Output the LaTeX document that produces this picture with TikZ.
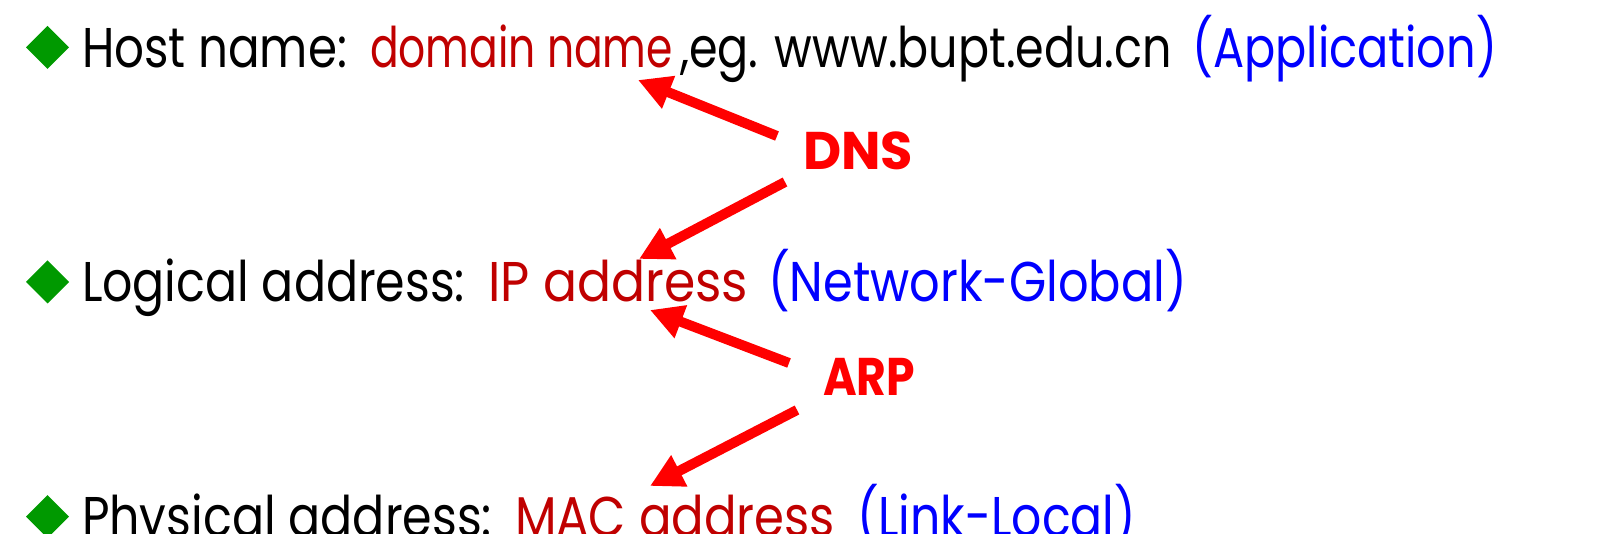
\documentclass[tikz,border=0pt]{standalone}
\usepackage{fontspec}
\setmainfont{Poppins}
\usetikzlibrary{arrows.meta}
\definecolor{dred}{HTML}{C00000}
\definecolor{bblue}{HTML}{0000FF}
\definecolor{rred}{HTML}{FF0000}
\definecolor{dgreen}{HTML}{009900}
\newsavebox\fitbox
\newcommand\fitw[2]{\sbox\fitbox{#2}\pgfmathsetmacro\fitr{#1/\the\wd\fitbox}\scalebox{\fitr}[1]{\usebox\fitbox}}
\begin{document}
\begin{tikzpicture}[x=1pt,y=1pt,
 txt/.style={anchor=base west,inner sep=0pt,outer sep=0pt,font=\fontsize{56}{60}\selectfont},
 lbl/.style={anchor=base west,inner sep=0pt,outer sep=0pt,text=rred,font=\fontsize{53}{56}\selectfont\bfseries},
 arr/.style={draw=rred,line width=10pt,-{Triangle[length=33pt,width=33pt]}},
 bullet/.style={fill=dgreen}]
\useasboundingbox (0,0) rectangle (1608,-534);
\clip (0,0) rectangle (1608,-534);
\fill[bullet] (26,-47.5) -- (47.5,-26) -- (69,-47.5) -- (47.5,-69) -- cycle;
\fill[bullet] (26,-282) -- (47.5,-260.5) -- (69,-282) -- (47.5,-303.5) -- cycle;
\fill[bullet] (26,-516.5) -- (47.5,-495) -- (69,-516.5) -- (47.5,-538) -- cycle;

\node[txt] (host) at (82,-68) {\fitw{265}{Host name:}};
\node[txt,text=dred] (domain) at (370,-68) {\fitw{303}{domain name}};
\node[txt] (eg) at (680,-68) {\fitw{492}{,eg. www.bupt.edu.cn}};
\node[txt,text=bblue] (app) at (1192,-68) {\fitw{305}{(Application)}};

\node[txt] (logical) at (82,-302) {\fitw{383}{Logical address:}};
\node[txt,text=dred] (ip) at (488,-302) {\fitw{260}{IP address}};
\node[txt,text=bblue] (net) at (768,-302) {\fitw{419}{(Network-Global)}};

\node[txt] (phys) at (82,-536) {\fitw{410}{Physical address:}};
\node[txt,text=dred] (mac) at (515,-536) {\fitw{320}{MAC address}};
\node[txt,text=bblue] (link) at (857,-536) {\fitw{279}{(Link-Local)}};

\node[lbl] (dns) at (803,-170) {\fitw{110}{DNS}};
\node[lbl] (arp) at (823,-395) {\fitw{92}{ARP}};

\draw[arr] ([shift={(-26,34)}]dns.base west) -- ([shift={(-35,-12)}]domain.base east);
\draw[arr] ([shift={(-18,-12)}]dns.base west) -- ([shift={(151,43)}]ip.base west);
\draw[arr] ([shift={(-34,32)}]arp.base west) -- ([shift={(162,-8)}]ip.base west);
\draw[arr] ([shift={(-26,-15)}]arp.base west) -- ([shift={(135,50)}]mac.base west);
\end{tikzpicture}
\end{document}
